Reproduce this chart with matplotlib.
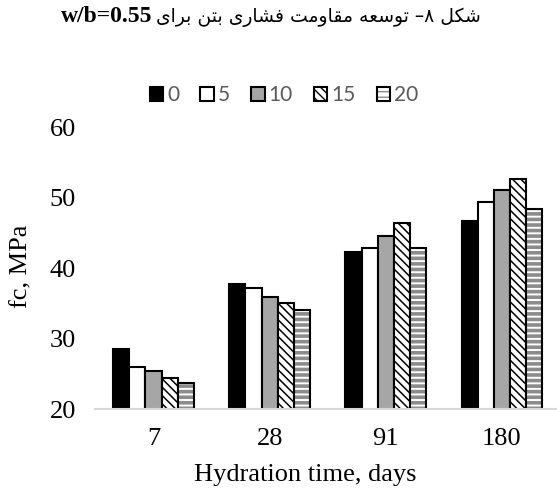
import matplotlib
matplotlib.use("Agg")
import matplotlib.pyplot as plt
from matplotlib.patches import Patch
import numpy as np

# Data
days = ["7", "28", "91", "180"]
series = ["0", "5", "10", "15", "20"]
fc_0 = [28.5, 37.7, 42.2, 46.7]
fc_5 = [26.0, 37.2, 42.9, 49.3]
fc_10 = [25.4, 35.9, 44.5, 51.1]
fc_15 = [24.4, 35.1, 46.4, 52.6]
fc_20 = [23.7, 34.0, 42.8, 48.4]

title_fa = "شکل ۸– توسعه مقاومت فشاری بتن برای"
title_en = "w/b=0.55"

# minimal persian shaping (matplotlib has no bidi / joining support)
forms = {
    "ش": ("\uFEB5", "\uFEB6", "\uFEB7", "\uFEB8"),
    "ک": ("\uFB8E", "\uFB8F", "\uFB90", "\uFB91"),
    "ل": ("\uFEDD", "\uFEDE", "\uFEDF", "\uFEE0"),
    "ت": ("\uFE95", "\uFE96", "\uFE97", "\uFE98"),
    "س": ("\uFEB1", "\uFEB2", "\uFEB3", "\uFEB4"),
    "ع": ("\uFEC9", "\uFECA", "\uFECB", "\uFECC"),
    "ه": ("\uFEE9", "\uFEEA", "\uFEEB", "\uFEEC"),
    "م": ("\uFEE1", "\uFEE2", "\uFEE3", "\uFEE4"),
    "ق": ("\uFED5", "\uFED6", "\uFED7", "\uFED8"),
    "ف": ("\uFED1", "\uFED2", "\uFED3", "\uFED4"),
    "ی": ("\uFBFC", "\uFBFD", "\uFBFE", "\uFBFF"),
    "ب": ("\uFE8F", "\uFE90", "\uFE91", "\uFE92"),
    "ن": ("\uFEE5", "\uFEE6", "\uFEE7", "\uFEE8"),
    "ا": ("\uFE8D", "\uFE8E", None, None),
    "و": ("\uFEED", "\uFEEE", None, None),
    "ر": ("\uFEAD", "\uFEAE", None, None),
}


def dual(c):
    return c in forms and forms[c][2] is not None


def shape(text):
    out = []
    for i, c in enumerate(text):
        if c not in forms:
            out.append(c)
            continue
        prev = text[i - 1] if i > 0 else ""
        nxt = text[i + 1] if i + 1 < len(text) else ""
        jp = dual(prev)
        jn = dual(c) and nxt in forms
        if jp and jn:
            out.append(forms[c][3])
        elif jp:
            out.append(forms[c][1])
        elif jn:
            out.append(forms[c][2])
        else:
            out.append(forms[c][0])
    return "".join(out)[::-1]


def hatch_lw(patches, lw):
    for p in patches:
        if hasattr(p, "set_hatch_linewidth"):
            p.set_hatch_linewidth(lw)


fig = plt.figure(figsize=(5.57, 4.9), dpi=100)
ax = fig.add_axes([0.1713, 0.1653, 0.8341, 0.5755])

x = np.arange(len(days))
w = 0.139

ax.bar(x - 2 * w, fc_0, w, color="black", edgecolor="black", linewidth=1.5)
ax.bar(x - w, fc_5, w, color="white", edgecolor="black", linewidth=1.5)
ax.bar(x, fc_10, w, color="#a6a6a6", edgecolor="black", linewidth=1.5)
b15 = ax.bar(x + w, fc_15, w, color="white", edgecolor="black", hatch="\\\\\\\\", linewidth=1.5)
h15 = Patch(facecolor="white", edgecolor="black", hatch="\\\\\\\\", linewidth=1.5)
hatch_lw(list(b15) + [h15], 1.1)
b20 = ax.bar(x + 2 * w, fc_20, w, color="white", edgecolor="#8c8c8c", hatch="---", linewidth=0)
h20a = Patch(facecolor="white", edgecolor="#8c8c8c", hatch="---", linewidth=0)
hatch_lw(list(b20) + [h20a], 2.6)
ax.bar(x + 2 * w, fc_20, w, fill=False, edgecolor="black", linewidth=1.5)

ax.set_ylim(20, 60)
ax.set_yticks([20, 30, 40, 50, 60])
ax.set_xlim(-0.5, 3.5)
ax.set_xticks(x)
ax.set_xticklabels(days)

for s in ["top", "right", "left"]:
    ax.spines[s].set_visible(False)
ax.spines["bottom"].set_color("#d9d9d9")
ax.spines["bottom"].set_linewidth(1.5)

ax.tick_params(axis="both", length=0, labelsize=19)
ax.tick_params(axis="y", pad=14)
ax.tick_params(axis="x", pad=14)
for lab in ax.get_xticklabels() + ax.get_yticklabels():
    lab.set_fontfamily("Liberation Serif")

ax.set_xlabel("Hydration time, days", fontsize=19, fontfamily="Liberation Serif")
ax.xaxis.set_label_coords(0.451, -0.195)
ax.xaxis.label.set_va("top")
ax.set_ylabel("fc, MPa", fontsize=19, fontfamily="Liberation Serif")
ax.yaxis.set_label_coords(-0.16, 0.507)
ax.yaxis.label.set_va("center")

# legend
h0 = Patch(facecolor="black", edgecolor="black", linewidth=1.5)
h5 = Patch(facecolor="white", edgecolor="black", linewidth=1.5)
h10 = Patch(facecolor="#a6a6a6", edgecolor="black", linewidth=1.5)
h20 = (h20a, Patch(fill=False, edgecolor="black", linewidth=1.5))
leg = fig.legend([h0, h5, h10, h15, h20], series, loc="center",
                 bbox_to_anchor=(0.51, 0.806), ncol=5, frameon=False,
                 handlelength=0.65, handleheight=0.65, handletextpad=0.2,
                 columnspacing=1.0, prop={"family": "Lato", "size": 15})
for t in leg.get_texts():
    t.set_color("#595959")

# title (right to left)
fig.text(152 / 557, 1 - 17 / 490, title_en, ha="right", va="center",
         fontsize=17, fontweight="bold", fontfamily="Liberation Serif")
fig.text(156 / 557, 1 - 17 / 490, shape(title_fa), ha="left", va="center",
         fontsize=13.5, fontfamily="DejaVu Sans")

fig.savefig("out.png", dpi=100)
